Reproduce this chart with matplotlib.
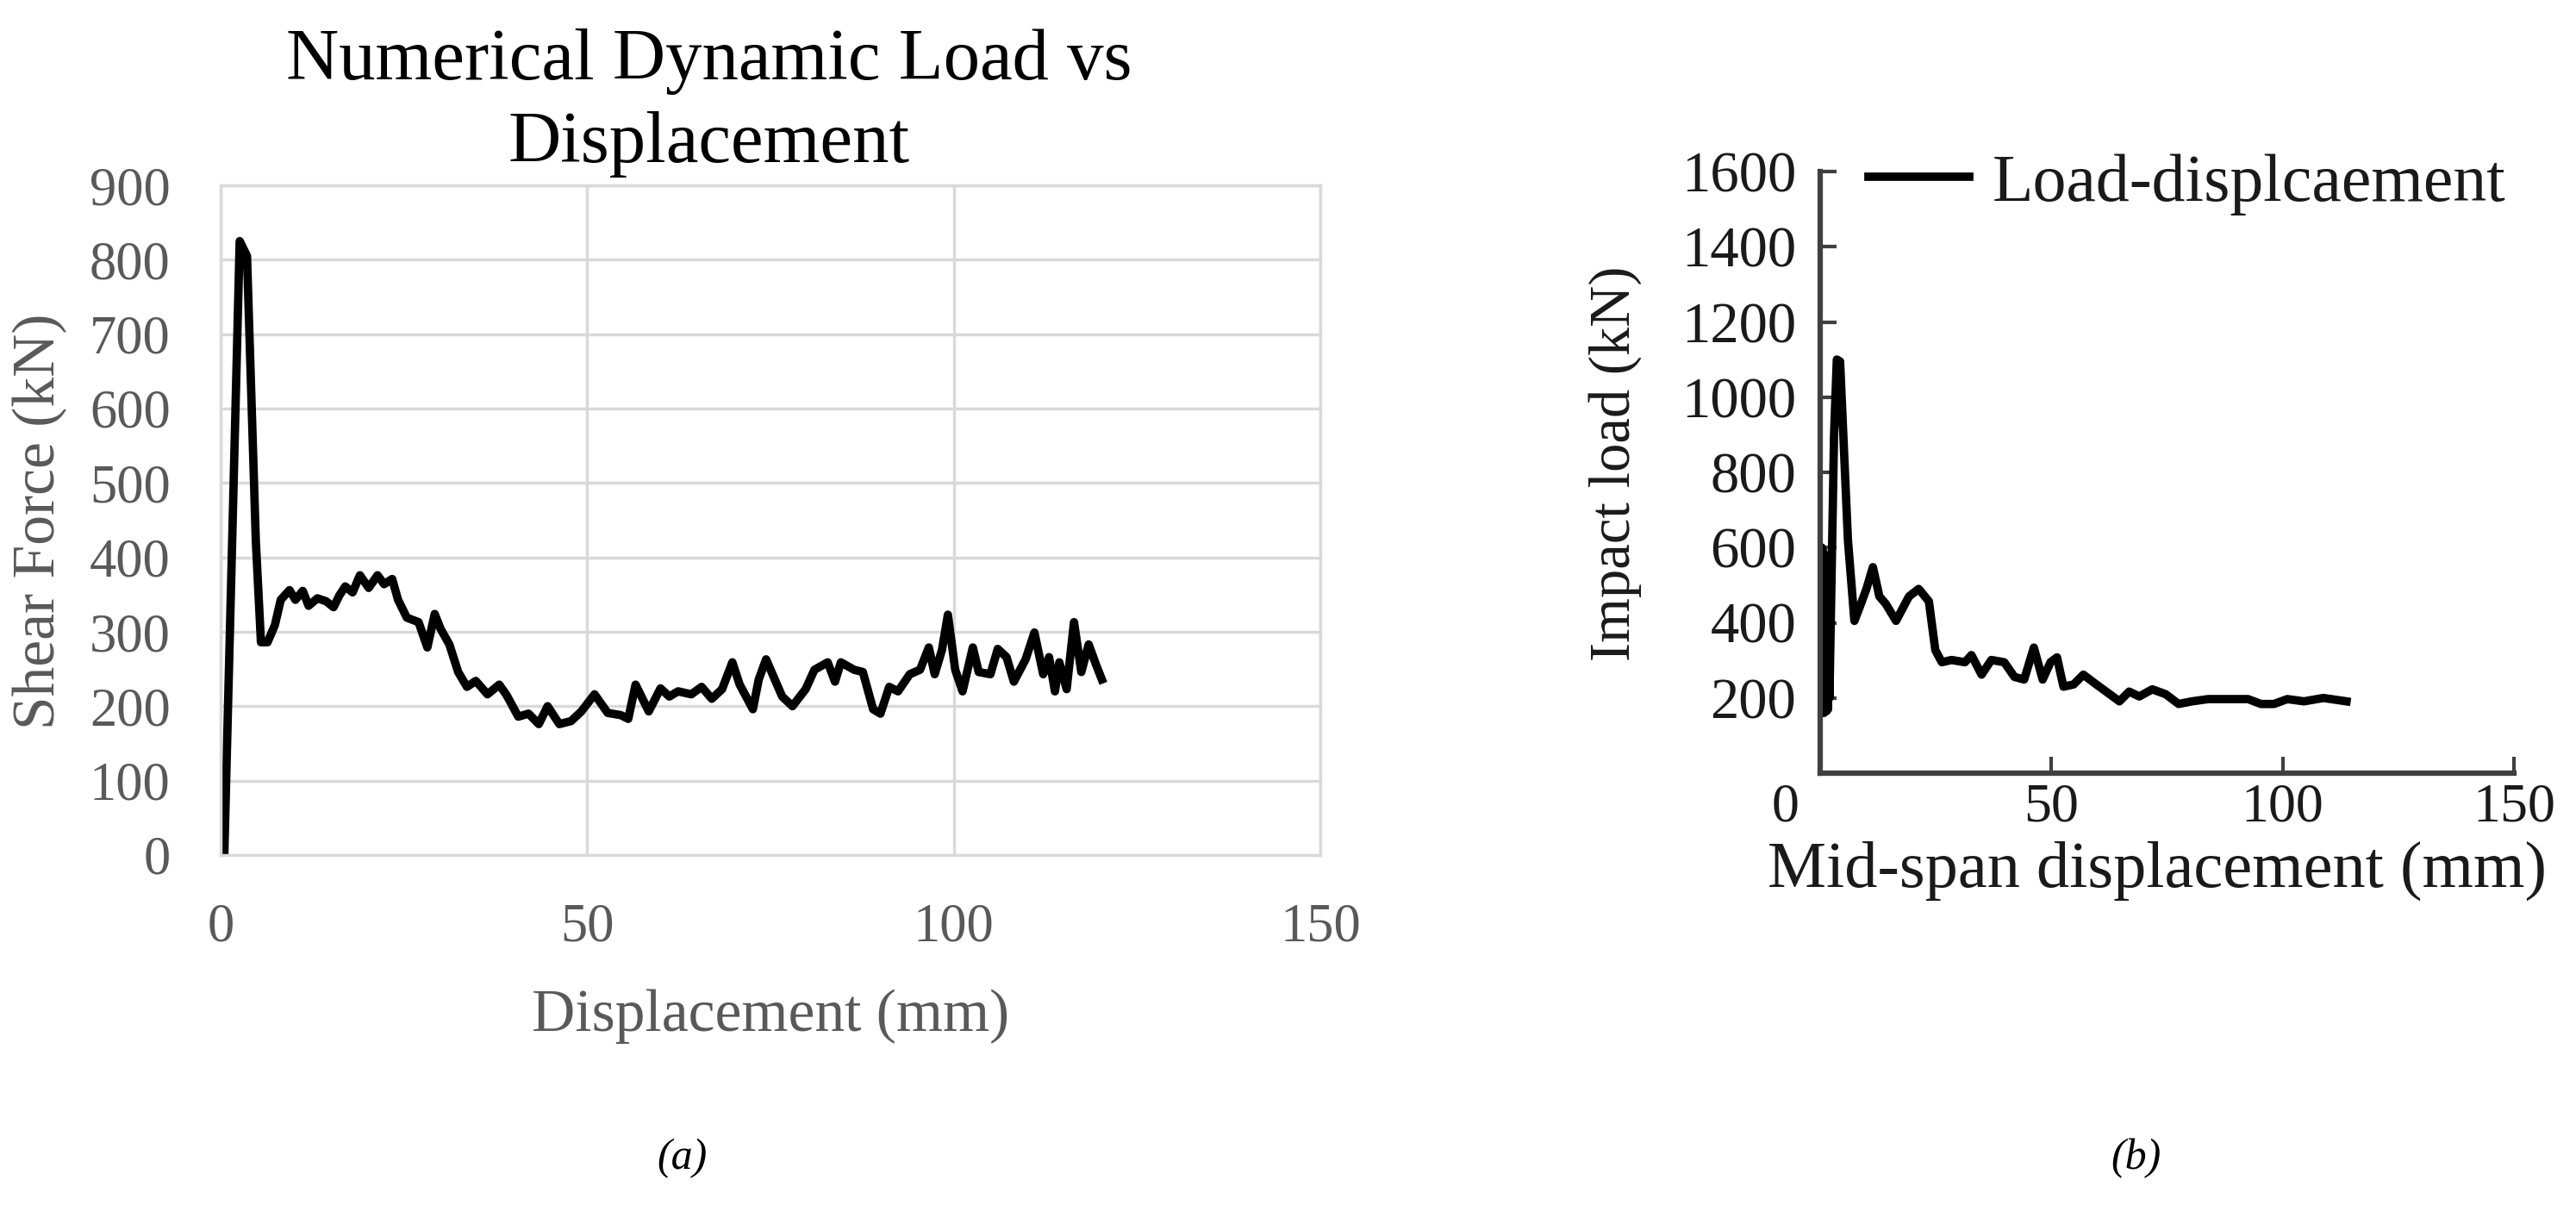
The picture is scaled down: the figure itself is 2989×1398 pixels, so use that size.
import matplotlib
matplotlib.use("Agg")
import matplotlib.pyplot as plt
import matplotlib.transforms as mtransforms

plt.rcParams.update({
    "font.family": "Liberation Serif",
    "figure.facecolor": "white",
})

# (a) numerical dynamic load vs displacement
num_disp = [0.5, 2.6, 3.6, 4.8, 5.5, 6.4, 7.4, 8.2, 9.4, 10.2, 11.2, 12.0, 13.2, 14.4,
            15.4, 16.2, 17.0, 18.0, 19.0, 20.2, 21.4, 22.3, 23.4, 24.2, 25.4, 27.0,
            28.2, 29.2, 30.0, 31.2, 32.4, 33.6, 34.8, 36.4, 38.0, 39.0, 40.6, 42.0,
            43.4, 44.6, 46.2, 47.8, 49.2, 51.0, 52.8, 54.6, 55.6, 56.6, 58.4, 60.0,
            61.2, 62.4, 64.2, 65.6, 67.0, 68.4, 69.8, 70.8, 72.6, 73.4, 74.4, 76.6,
            78.0, 79.8, 81.0, 82.8, 83.8, 84.6, 86.4, 87.6, 89.0, 90.0, 91.2, 92.4,
            94.0, 95.4, 96.6, 97.4, 98.4, 99.2, 100.2, 101.2, 102.6, 103.4, 105.0,
            106.0, 107.2, 108.2, 109.8, 111.0, 112.2, 113.0, 113.8, 114.4, 115.4,
            116.4, 117.4, 118.4, 119.4, 120.2]
num_load = [0, 825, 805, 422, 286, 286, 309, 343, 356, 343, 355, 335, 345, 341,
            333, 349, 361, 353, 376, 359, 376, 364, 371, 343, 319, 313,
            279, 324, 304, 283, 246, 226, 234, 216, 229, 215, 186, 190,
            176, 200, 176, 180, 193, 216, 191, 188, 183, 229, 193, 224,
            213, 220, 216, 226, 210, 223, 259, 229, 196, 236, 263, 213,
            200, 223, 249, 259, 233, 259, 249, 246, 196, 190, 226, 220,
            243, 249, 279, 243, 276, 323, 249, 220, 279, 246, 243,
            277, 266, 233, 263, 299, 243, 266, 220, 259, 223,
            313, 246, 283, 256, 236]

# (b) impact load vs mid-span displacement
exp_disp = [0.2, 0.35, 0.5, 0.65, 0.8, 0.95, 1.1, 1.25, 1.4, 1.55, 1.7, 1.85, 2.0,
            3.0, 3.6, 4.3, 5.0, 6.0, 7.4, 8.5,
            10.0, 11.4, 12.8, 14.2, 16.4, 19.2, 21.3, 23.5, 24.9, 26.3, 28.4, 31.3,
            32.7, 34.9, 37.0, 39.8, 42.0, 44.1, 46.2, 48.1, 49.8, 51.2, 52.6, 54.8,
            56.9, 59.7, 62.6, 64.7, 66.8, 69.0, 71.8, 74.7, 77.5, 80.4, 83.9, 88.2,
            92.5, 95.3, 98.1, 101.0, 104.6, 108.8, 113.8]
exp_load = [180, 600, 170, 590, 160, 580, 175, 560, 165, 550, 170, 520, 200,
            900, 1100, 1095, 900, 620, 405, 440,
            490, 548, 470, 450, 405, 470, 490, 457, 327, 295, 301, 295,
            314, 262, 301, 295, 256, 249, 334, 249, 295, 308, 230, 236,
            262, 236, 210, 191, 217, 204, 223, 210, 184, 191, 197, 197,
            197, 184, 184, 197, 191, 200, 191]

x_ticks = [0, 50, 100, 150]
left_y_ticks = list(range(0, 1000, 100))
right_y_ticks = list(range(200, 1800, 200))

W, H = 2989, 1398
fig = plt.figure(figsize=(W / 100, H / 100), dpi=100)

grid_c = "#d9d9d9"
label_c = "#595959"
dark = "#1a1a1a"

# ---- panel (a), Excel style ----
ax1 = fig.add_axes([256 / W, 1 - 992 / H, (1532 - 256) / W, (992 - 215) / H])
ax1.plot(num_disp, num_load, color="black", linewidth=7, solid_joinstyle="round")
ax1.set_xlim(0, 150)
ax1.set_ylim(0, 900)
ax1.set_xticks(x_ticks)
ax1.set_yticks(left_y_ticks)
ax1.grid(True, color=grid_c, linewidth=2.5)
ax1.set_axisbelow(True)
for s in ax1.spines.values():
    s.set_color(grid_c)
    s.set_linewidth(2.5)
ax1.tick_params(length=0, labelsize=45, labelcolor=label_c)
ax1.tick_params(axis="y", pad=42)
ax1.tick_params(axis="x", pad=40)
ax1.set_xlabel("Displacement (mm)", fontsize=50, color=label_c, labelpad=30)
fig.text(46 / W, 1 - 605 / H, "Shear Force (kN)", fontsize=50, color=label_c,
         rotation=90, ha="center", va="center")

fig.text(823 / W, 1 - 92 / H, "Numerical Dynamic Load vs", fontsize=61,
         ha="center", va="baseline")
fig.text(823 / W, 1 - 188 / H, "Displacement", fontsize=61,
         ha="center", va="baseline")

# ---- panel (b), scanned figure ----
ax2 = fig.add_axes([2112 / W, 1 - 897 / H, (2917 - 2112) / W, (897 - 199) / H])
ax2.plot(exp_disp, exp_load, color="black", linewidth=7, solid_joinstyle="round",
         label="Load-displcaement")
ax2.set_xlim(0, 150)
ax2.set_ylim(0, 1600)
ax2.set_xticks(x_ticks)
ax2.set_yticks(right_y_ticks)
for side in ["top", "right"]:
    ax2.spines[side].set_visible(False)
for side in ["left", "bottom"]:
    ax2.spines[side].set_color("#404040")
    ax2.spines[side].set_linewidth(4.5)
ax2.tick_params(direction="in", length=14, width=3, color="#404040",
                labelsize=48, labelcolor=dark)
ax2.tick_params(axis="y", pad=20)
ax2.tick_params(axis="x", pad=8, labelsize=46)
# the "0" label sits left of the origin in the scan
zero_lbl = ax2.get_xticklabels()[0]
zero_lbl.set_transform(zero_lbl.get_transform() +
                       mtransforms.ScaledTranslation(-0.4, 0, fig.dpi_scale_trans))
fig.text(2503 / W, 1 - 1010 / H, "Mid-span displacement (mm)", fontsize=55,
         color=dark, ha="center", va="center")
fig.text(1874 / W, 1 - 538 / H, "Impact load (kN)", fontsize=48, color=dark,
         rotation=90, ha="center", va="center")
leg = ax2.legend(loc="upper left", bbox_to_anchor=(0.07, 1.03), frameon=False,
                 fontsize=56, handlelength=1.5, handletextpad=0.35,
                 borderpad=0, borderaxespad=0)
for t in leg.get_texts():
    t.set_color(dark)

# captions
fig.text(791 / W, 1 - 1344 / H, "(a)", fontsize=36, style="italic",
         ha="center", va="center")
fig.text(2478 / W, 1 - 1344 / H, "(b)", fontsize=36, style="italic",
         ha="center", va="center")

fig.savefig("out.png", dpi=100)
